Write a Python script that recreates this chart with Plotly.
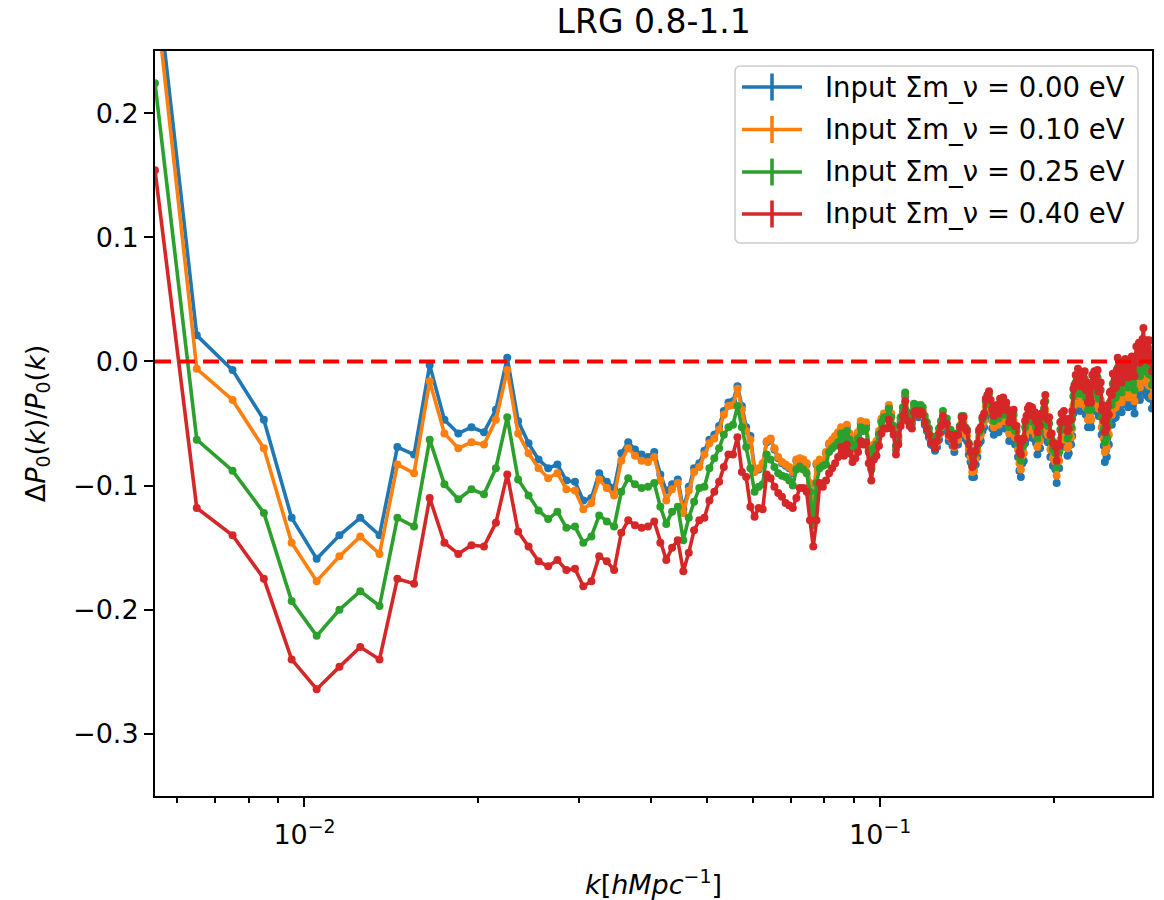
import numpy as np
import plotly.graph_objects as go

# k bin centres (h/Mpc): 0.0055 ... 0.2965, step 0.001
k = np.round(0.0055 + 0.001 * np.arange(292), 4)

labels = ["Input Σm_ν = 0.00 eV", "Input Σm_ν = 0.10 eV",
          "Input Σm_ν = 0.25 eV", "Input Σm_ν = 0.40 eV"]
colors = ["#1f77b4", "#ff7f0e", "#2ca02c", "#d62728"]

ratio_000 = [
    0.320, 0.021, -0.007, -0.047, -0.126, -0.159, -0.140, -0.126, -0.140, -0.069,
    -0.075, -0.003, -0.047, -0.058, -0.053, -0.057, -0.039, 0.003, -0.048, -0.066,
    -0.079, -0.086, -0.083, -0.096, -0.097, -0.112, -0.110, -0.090, -0.097, -0.102,
    -0.074, -0.065, -0.071, -0.075, -0.077, -0.073, -0.091, -0.104, -0.099, -0.095,
    -0.119, -0.101, -0.086, -0.082, -0.072, -0.063, -0.059, -0.052, -0.040, -0.033,
    -0.032, -0.020, -0.036, -0.053, -0.060, -0.087, -0.087, -0.083, -0.065, -0.063,
    -0.071, -0.078, -0.082, -0.084, -0.086, -0.090, -0.080, -0.079, -0.080, -0.083,
    -0.099, -0.118, -0.083, -0.080, -0.082, -0.074, -0.067, -0.064, -0.061, -0.058,
    -0.055, -0.062, -0.053, -0.060, -0.067, -0.064, -0.059, -0.050, -0.053, -0.051,
    -0.072, -0.086, -0.069, -0.066, -0.058, -0.048, -0.044, -0.044, -0.037, -0.044,
    -0.055, -0.071, -0.063, -0.048, -0.040, -0.028, -0.044, -0.048, -0.050, -0.037,
    -0.042, -0.045, -0.042, -0.044, -0.051, -0.056, -0.061, -0.067, -0.068, -0.072,
    -0.069, -0.063, -0.057, -0.049, -0.055, -0.055, -0.064, -0.064, -0.068, -0.073,
    -0.067, -0.067, -0.061, -0.053, -0.053, -0.062, -0.064, -0.075, -0.081, -0.093,
    -0.093, -0.083, -0.077, -0.066, -0.064, -0.056, -0.053, -0.041, -0.038, -0.035,
    -0.046, -0.054, -0.059, -0.052, -0.050, -0.057, -0.045, -0.051, -0.044, -0.054,
    -0.048, -0.054, -0.064, -0.060, -0.063, -0.054, -0.067, -0.067, -0.077, -0.088,
    -0.093, -0.082, -0.080, -0.066, -0.062, -0.056, -0.054, -0.060, -0.055, -0.062,
    -0.059, -0.066, -0.075, -0.064, -0.070, -0.060, -0.061, -0.051, -0.045, -0.063,
    -0.065, -0.063, -0.077, -0.076, -0.084, -0.084, -0.087, -0.098, -0.086, -0.086,
    -0.069, -0.062, -0.068, -0.060, -0.069, -0.067, -0.076, -0.074, -0.066, -0.067,
    -0.060, -0.042, -0.039, -0.031, -0.033, -0.026, -0.029, -0.040, -0.033, -0.039,
    -0.029, -0.028, -0.043, -0.037, -0.053, -0.042, -0.050, -0.053, -0.031, -0.039,
    -0.028, -0.040, -0.029, -0.027, -0.044, -0.044, -0.037, -0.059, -0.055, -0.068,
    -0.081, -0.072, -0.077, -0.060, -0.067, -0.049, -0.048, -0.051, -0.034, -0.046,
    -0.035, -0.045, -0.031, -0.021, -0.030, -0.038, -0.026, -0.041, -0.028, -0.034,
    -0.024, -0.022, -0.034, -0.025, -0.037, -0.023, -0.027, -0.036, -0.020, -0.034,
    -0.031, -0.042, -0.028, -0.018, -0.028, -0.024, -0.015, -0.031, -0.018, -0.023,
    -0.012, -0.003, -0.023, -0.014, -0.027, -0.013, -0.019, -0.029, -0.013, -0.030,
    -0.024, -0.038,
]

ratio_010 = [
    0.300, -0.006, -0.031, -0.070, -0.146, -0.177, -0.157, -0.141, -0.155, -0.083,
    -0.090, -0.016, -0.058, -0.070, -0.065, -0.067, -0.047, -0.007, -0.058, -0.074,
    -0.086, -0.094, -0.090, -0.103, -0.104, -0.119, -0.114, -0.095, -0.102, -0.108,
    -0.080, -0.070, -0.076, -0.080, -0.081, -0.077, -0.096, -0.112, -0.103, -0.098,
    -0.122, -0.104, -0.089, -0.085, -0.075, -0.066, -0.062, -0.055, -0.043, -0.036,
    -0.035, -0.022, -0.039, -0.056, -0.063, -0.089, -0.086, -0.082, -0.064, -0.062,
    -0.070, -0.077, -0.081, -0.083, -0.085, -0.089, -0.079, -0.078, -0.079, -0.082,
    -0.098, -0.117, -0.082, -0.079, -0.081, -0.073, -0.066, -0.063, -0.060, -0.057,
    -0.053, -0.060, -0.051, -0.058, -0.065, -0.062, -0.057, -0.048, -0.051, -0.049,
    -0.070, -0.084, -0.067, -0.064, -0.056, -0.046, -0.042, -0.042, -0.035, -0.042,
    -0.053, -0.069, -0.061, -0.046, -0.038, -0.026, -0.042, -0.046, -0.048, -0.035,
    -0.038, -0.041, -0.038, -0.040, -0.047, -0.052, -0.057, -0.063, -0.064, -0.068,
    -0.065, -0.059, -0.053, -0.045, -0.051, -0.051, -0.060, -0.060, -0.064, -0.069,
    -0.063, -0.063, -0.057, -0.049, -0.049, -0.058, -0.060, -0.071, -0.077, -0.089,
    -0.088, -0.078, -0.072, -0.061, -0.059, -0.051, -0.048, -0.036, -0.033, -0.030,
    -0.040, -0.048, -0.053, -0.046, -0.044, -0.051, -0.039, -0.045, -0.038, -0.048,
    -0.042, -0.048, -0.058, -0.054, -0.057, -0.048, -0.061, -0.061, -0.071, -0.082,
    -0.087, -0.076, -0.074, -0.060, -0.056, -0.050, -0.048, -0.054, -0.049, -0.056,
    -0.053, -0.060, -0.069, -0.058, -0.064, -0.054, -0.055, -0.045, -0.039, -0.057,
    -0.059, -0.057, -0.071, -0.070, -0.078, -0.078, -0.081, -0.092, -0.080, -0.080,
    -0.063, -0.056, -0.062, -0.054, -0.063, -0.061, -0.070, -0.068, -0.060, -0.061,
    -0.054, -0.036, -0.033, -0.025, -0.027, -0.020, -0.023, -0.034, -0.027, -0.033,
    -0.023, -0.022, -0.037, -0.031, -0.047, -0.036, -0.044, -0.047, -0.025, -0.033,
    -0.022, -0.034, -0.023, -0.021, -0.038, -0.038, -0.031, -0.053, -0.049, -0.062,
    -0.073, -0.064, -0.069, -0.052, -0.059, -0.041, -0.040, -0.043, -0.026, -0.038,
    -0.027, -0.037, -0.023, -0.013, -0.022, -0.030, -0.018, -0.033, -0.020, -0.026,
    -0.016, -0.014, -0.026, -0.017, -0.029, -0.015, -0.019, -0.028, -0.012, -0.026,
    -0.021, -0.032, -0.018, -0.008, -0.018, -0.014, -0.005, -0.021, -0.008, -0.013,
    -0.002, 0.007, -0.013, -0.004, -0.017, -0.003, -0.009, -0.019, -0.003, -0.020,
    -0.014, -0.028,
]

ratio_025 = [
    0.224, -0.063, -0.088, -0.122, -0.193, -0.221, -0.200, -0.185, -0.197, -0.126,
    -0.133, -0.063, -0.099, -0.111, -0.103, -0.107, -0.086, -0.045, -0.095, -0.108,
    -0.120, -0.127, -0.121, -0.134, -0.133, -0.146, -0.141, -0.124, -0.129, -0.133,
    -0.105, -0.094, -0.099, -0.102, -0.101, -0.098, -0.117, -0.131, -0.121, -0.117,
    -0.144, -0.126, -0.113, -0.102, -0.101, -0.086, -0.078, -0.070, -0.059, -0.053,
    -0.051, -0.036, -0.053, -0.069, -0.086, -0.105, -0.101, -0.099, -0.075, -0.079,
    -0.085, -0.090, -0.092, -0.093, -0.096, -0.100, -0.087, -0.085, -0.087, -0.090,
    -0.105, -0.132, -0.098, -0.086, -0.084, -0.083, -0.073, -0.070, -0.068, -0.065,
    -0.058, -0.065, -0.056, -0.063, -0.070, -0.067, -0.062, -0.053, -0.056, -0.054,
    -0.073, -0.087, -0.070, -0.067, -0.059, -0.049, -0.045, -0.045, -0.038, -0.045,
    -0.052, -0.068, -0.060, -0.045, -0.037, -0.025, -0.041, -0.045, -0.047, -0.034,
    -0.035, -0.038, -0.035, -0.037, -0.044, -0.049, -0.054, -0.060, -0.061, -0.065,
    -0.060, -0.054, -0.048, -0.040, -0.046, -0.046, -0.055, -0.055, -0.059, -0.064,
    -0.058, -0.058, -0.052, -0.044, -0.044, -0.053, -0.055, -0.066, -0.072, -0.084,
    -0.084, -0.074, -0.068, -0.057, -0.055, -0.047, -0.044, -0.032, -0.029, -0.026,
    -0.035, -0.043, -0.048, -0.041, -0.039, -0.046, -0.034, -0.040, -0.033, -0.043,
    -0.037, -0.043, -0.053, -0.049, -0.052, -0.043, -0.056, -0.056, -0.066, -0.077,
    -0.080, -0.069, -0.067, -0.053, -0.049, -0.043, -0.041, -0.047, -0.042, -0.049,
    -0.046, -0.053, -0.062, -0.051, -0.057, -0.047, -0.048, -0.038, -0.032, -0.050,
    -0.052, -0.050, -0.064, -0.063, -0.071, -0.071, -0.074, -0.085, -0.073, -0.073,
    -0.055, -0.048, -0.054, -0.046, -0.055, -0.053, -0.062, -0.060, -0.052, -0.053,
    -0.046, -0.028, -0.025, -0.017, -0.019, -0.012, -0.015, -0.026, -0.019, -0.025,
    -0.015, -0.014, -0.029, -0.023, -0.039, -0.028, -0.036, -0.039, -0.017, -0.025,
    -0.014, -0.026, -0.015, -0.013, -0.030, -0.030, -0.023, -0.045, -0.041, -0.054,
    -0.065, -0.056, -0.061, -0.044, -0.051, -0.033, -0.032, -0.035, -0.018, -0.030,
    -0.019, -0.029, -0.015, -0.005, -0.014, -0.022, -0.010, -0.025, -0.012, -0.018,
    -0.008, -0.006, -0.018, -0.009, -0.021, -0.007, -0.011, -0.020, -0.004, -0.018,
    -0.012, -0.023, -0.009, 0.001, -0.009, -0.005, 0.004, -0.012, 0.001, -0.004,
    0.007, 0.016, -0.004, 0.005, -0.008, 0.006, 0.000, -0.010, 0.006, -0.011,
    -0.005, -0.019,
]

ratio_040 = [
    0.154, -0.118, -0.140, -0.175, -0.240, -0.264, -0.246, -0.230, -0.240, -0.175,
    -0.179, -0.110, -0.146, -0.155, -0.148, -0.149, -0.130, -0.091, -0.137, -0.149,
    -0.161, -0.165, -0.160, -0.168, -0.167, -0.181, -0.177, -0.157, -0.161, -0.168,
    -0.138, -0.128, -0.132, -0.134, -0.133, -0.129, -0.146, -0.160, -0.150, -0.144,
    -0.169, -0.154, -0.136, -0.128, -0.126, -0.112, -0.105, -0.097, -0.085, -0.075,
    -0.075, -0.061, -0.089, -0.093, -0.117, -0.125, -0.118, -0.119, -0.091, -0.094,
    -0.101, -0.106, -0.109, -0.114, -0.116, -0.118, -0.110, -0.102, -0.102, -0.105,
    -0.128, -0.149, -0.128, -0.098, -0.101, -0.096, -0.090, -0.086, -0.082, -0.077,
    -0.069, -0.076, -0.067, -0.074, -0.081, -0.078, -0.073, -0.064, -0.067, -0.065,
    -0.082, -0.096, -0.079, -0.076, -0.068, -0.058, -0.054, -0.054, -0.047, -0.054,
    -0.059, -0.075, -0.067, -0.052, -0.044, -0.032, -0.048, -0.052, -0.054, -0.041,
    -0.040, -0.043, -0.040, -0.042, -0.049, -0.054, -0.059, -0.065, -0.066, -0.070,
    -0.064, -0.058, -0.052, -0.044, -0.050, -0.050, -0.059, -0.059, -0.063, -0.068,
    -0.059, -0.059, -0.053, -0.045, -0.045, -0.054, -0.056, -0.067, -0.073, -0.085,
    -0.082, -0.072, -0.066, -0.055, -0.053, -0.045, -0.042, -0.030, -0.027, -0.024,
    -0.031, -0.039, -0.044, -0.037, -0.035, -0.042, -0.030, -0.036, -0.029, -0.039,
    -0.033, -0.039, -0.049, -0.045, -0.048, -0.039, -0.052, -0.052, -0.062, -0.073,
    -0.075, -0.064, -0.062, -0.048, -0.044, -0.038, -0.036, -0.042, -0.037, -0.044,
    -0.041, -0.048, -0.057, -0.046, -0.052, -0.042, -0.043, -0.033, -0.027, -0.045,
    -0.047, -0.045, -0.059, -0.058, -0.066, -0.066, -0.069, -0.080, -0.068, -0.068,
    -0.049, -0.042, -0.048, -0.040, -0.049, -0.047, -0.056, -0.054, -0.046, -0.047,
    -0.040, -0.022, -0.019, -0.011, -0.013, -0.006, -0.009, -0.020, -0.013, -0.019,
    -0.009, -0.008, -0.023, -0.017, -0.033, -0.022, -0.030, -0.033, -0.011, -0.019,
    -0.008, -0.020, -0.009, -0.007, -0.024, -0.024, -0.017, -0.039, -0.035, -0.048,
    -0.057, -0.048, -0.053, -0.036, -0.043, -0.025, -0.024, -0.027, -0.010, -0.022,
    -0.011, -0.021, -0.007, 0.003, -0.006, -0.014, -0.002, -0.017, -0.004, -0.010,
    0.000, 0.002, -0.010, -0.001, -0.013, 0.001, -0.003, -0.012, 0.004, -0.010,
    -0.001, -0.012, 0.002, 0.012, 0.002, 0.006, 0.015, -0.001, 0.012, 0.007,
    0.018, 0.027, 0.007, 0.016, 0.003, 0.017, 0.011, 0.001, 0.017, 0.000,
    0.006, -0.008,
]

series = [ratio_000, ratio_010, ratio_025, ratio_040]

y_ticks = [-0.3, -0.2, -0.1, 0.0, 0.1, 0.2]
y_ticktext = ["−0.3", "−0.2", "−0.1", "0.0", "0.1", "0.2"]
x_ticks = [0.01, 0.1]
x_ticktext = ["10<sup>−2</sup>", "10<sup>−1</sup>"]
x_minor = [0.006, 0.007, 0.008, 0.009, 0.02, 0.03, 0.04, 0.05, 0.06, 0.07, 0.08, 0.09, 0.2]

FONT = "DejaVu Sans"
W, H = 1164, 900
ML, MR, MT, MB = 155, 12, 51, 104
PW, PH = W - ML - MR, H - MT - MB


def px(xp):
    return (xp - ML) / PW


def py(yp):
    return (H - MB - yp) / PH


fig = go.Figure()

for vals, col in zip(series, colors):
    fig.add_trace(go.Scatter(
        x=k, y=vals, mode="lines+markers",
        line=dict(color=col, width=3.6),
        marker=dict(color=col, size=8),
        showlegend=False, hoverinfo="skip"))

fig.add_shape(type="line", xref="paper", x0=0, x1=1, yref="y", y0=0, y1=0,
              line=dict(color="#ff0000", width=4, dash="16px,8px"), layer="above")

# legend box (matplotlib style, rounded corners)
bx0, bx1, by0, by1, r = 735, 1138, 66, 243, 6
rx, ry = r / PW, r / PH
X0, X1, Y0, Y1 = px(bx0), px(bx1), py(by1), py(by0)
path = (f"M {X0+rx},{Y0} L {X1-rx},{Y0} Q {X1},{Y0} {X1},{Y0+ry} "
        f"L {X1},{Y1-ry} Q {X1},{Y1} {X1-rx},{Y1} L {X0+rx},{Y1} "
        f"Q {X0},{Y1} {X0},{Y1-ry} L {X0},{Y0+ry} Q {X0},{Y0} {X0+rx},{Y0} Z")
fig.add_shape(type="path", xref="paper", yref="paper", path=path,
              fillcolor="rgba(255,255,255,0.8)", line=dict(color="#cccccc", width=1.5),
              layer="above")

row_y = [87, 129.5, 172, 214]
for lab, col, yy in zip(labels, colors, row_y):
    fig.add_shape(type="line", xref="paper", yref="paper",
                  x0=px(742), x1=px(802), y0=py(yy), y1=py(yy),
                  line=dict(color=col, width=3.6), layer="above")
    fig.add_shape(type="line", xref="paper", yref="paper",
                  x0=px(772), x1=px(772), y0=py(yy - 13.5), y1=py(yy + 13.5),
                  line=dict(color=col, width=3.6), layer="above")
    fig.add_annotation(xref="paper", yref="paper", x=px(823), y=py(yy),
                       xanchor="left", yanchor="middle", showarrow=False,
                       text=lab, font=dict(size=27.5, family=FONT, color="#000"))

fig.update_layout(
    width=W, height=H,
    margin=dict(l=ML, r=MR, t=MT, b=MB, autoexpand=False),
    paper_bgcolor="white", plot_bgcolor="white",
    font=dict(family=FONT, size=27, color="black"),
    showlegend=False,
    title=dict(text="LRG 0.8-1.1", x=0.5616, xanchor="center",
               y=0.976, yanchor="middle", font=dict(size=33, family=FONT)),
)

fig.update_xaxes(
    type="log", range=[np.log10(0.0055), np.log10(0.2965)],
    automargin=False,
    showgrid=False, zeroline=False,
    showline=True, linecolor="black", linewidth=2, mirror=True,
    ticks="outside", ticklen=9, tickwidth=2, tickcolor="black",
    tickvals=x_ticks, ticktext=x_ticktext, tickfont=dict(size=27),
    ticklabelstandoff=5,
    minor=dict(tickvals=x_minor, ticks="outside", ticklen=5, tickwidth=1.6,
               tickcolor="black", showgrid=False),
    title=dict(text="<i>k</i>[<i>hMpc</i><sup>−1</sup>]", font=dict(size=27), standoff=28),
)
fig.update_yaxes(
    range=[-0.35, 0.25],
    automargin=False,
    showgrid=False, zeroline=False,
    showline=True, linecolor="black", linewidth=2, mirror=True,
    ticks="outside", ticklen=9, tickwidth=2, tickcolor="black",
    tickvals=y_ticks, ticktext=y_ticktext, tickfont=dict(size=27),
    title=dict(text="Δ<i>P</i><sub>0</sub>(<i>k</i>)/<i>P</i><sub>0</sub>(<i>k</i>)",
               font=dict(size=27), standoff=20),
)

fig.write_html("out.html")
